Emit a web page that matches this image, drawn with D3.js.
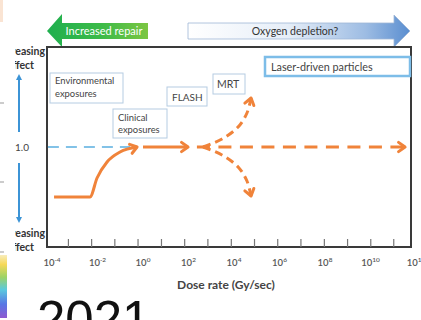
<!DOCTYPE html>
<html>
<head>
<meta charset="utf-8">
<script src="https://cdn.jsdelivr.net/npm/d3@7"></script>
<style>
  html, body { margin: 0; padding: 0; background: #fff; }
  svg { display: block; font-family: Lato, "Open Sans", sans-serif; }
</style>
</head>
<body>
<svg id="chart" width="421" height="320"></svg>
<script>
// x values are log10 of dose rate (Gy/sec); y values are relative effect (1.0 = reference)
const tickLabelExps = [-4, -2, 0, 2, 4, 6, 8, 10, 12];
const tickLabelSup  = ["-4", "-2", "0", "2", "4", "6", "8", "10", "12"];
const minorTickExps = [-3.3, -2.28, -1.26, -0.24, 0.79, 1.81, 2.83, 3.86, 4.88, 5.9, 6.92, 7.95, 8.97, 9.99, 11.0];

// low-dose-rate level rising to the 1.0 level
const riseExp    = [-3.91, -2.33, -2.02, -1.58, -1.01, -0.26];
const riseEffect = [0.5, 0.5, 0.69, 0.85, 0.95, 1.0];
// solid continuation at 1.0
const flatExp    = [0.0, 1.98];
const flatEffect = [1.0, 1.0];
// dashed continuation at 1.0
const dashExp    = [2.37, 11.52];
const dashEffect = [1.0, 1.0];
// reference level
const refExp     = [-4.18, -0.57];
const refEffect  = [1.0, 1.0];
// branches at ultra-high dose rate
const upExp      = [2.64, 3.47, 4.18, 4.57, 4.75];
const upEffect   = [1.0, 1.08, 1.2, 1.34, 1.49];
const downExp    = [2.64, 3.47, 4.18, 4.57, 4.75];
const downEffect = [1.0, 0.92, 0.8, 0.66, 0.51];

const svg = d3.select("#chart");
const frame = { left: 47, top: 47, right: 411, bottom: 247 };

const x = d3.scaleLinear().domain([-4, 12]).range([52, 416]);
const y = d3.scaleLinear().domain([0, 2]).range([247, 47]);

const ORANGE = "#F0833A";
const BLUE_DASH = "#5AAFE0";
const AXIS_BLUE = "#3C94D6";

const defs = svg.append("defs");
const gGreen = defs.append("linearGradient").attr("id", "gGreen").attr("x1", 0).attr("x2", 1).attr("y1", 0).attr("y2", 0);
gGreen.append("stop").attr("offset", "0%").attr("stop-color", "#1FAF4F");
gGreen.append("stop").attr("offset", "55%").attr("stop-color", "#3DBB48");
gGreen.append("stop").attr("offset", "100%").attr("stop-color", "#7CC642");
const gBlue = defs.append("linearGradient").attr("id", "gBlue").attr("x1", 0).attr("x2", 1).attr("y1", 0).attr("y2", 0);
gBlue.append("stop").attr("offset", "0%").attr("stop-color", "#FFFFFF");
gBlue.append("stop").attr("offset", "45%").attr("stop-color", "#E6EEF8");
gBlue.append("stop").attr("offset", "80%").attr("stop-color", "#9DBCE3");
gBlue.append("stop").attr("offset", "100%").attr("stop-color", "#5A8ED0");
const gBar = defs.append("linearGradient").attr("id", "gBar").attr("x1", 0).attr("x2", 0).attr("y1", 0).attr("y2", 1);
[["0%", "#F7E9B0"], ["15%", "#F5D23A"], ["35%", "#8CCB4A"], ["55%", "#3DBFD8"], ["78%", "#3A5FE0"], ["100%", "#7A3CC8"]]
  .forEach(([o, c]) => gBar.append("stop").attr("offset", o).attr("stop-color", c));
defs.append("clipPath").attr("id", "sideClip")
  .append("rect").attr("x", 15).attr("y", 0).attr("width", 40).attr("height", 320);

// stray slide edge details on the far left
svg.append("rect").attr("x", 0).attr("y", 255).attr("width", 7).attr("height", 63).attr("fill", "url(#gBar)").attr("opacity", 0.85);
[103, 182, 252].forEach(v => svg.append("line").attr("x1", 0).attr("x2", 4).attr("y1", v).attr("y2", v).attr("stroke", "#999").attr("stroke-width", 1));
svg.append("rect").attr("x", 0).attr("y", 0).attr("width", 3).attr("height", 22).attr("fill", "#F6C9A8").attr("opacity", 0.5);

// top arrows
svg.append("path")
  .attr("d", "M47,31 L62,14 L62,23 L148,23 L148,39 L62,39 L62,47 Z")
  .attr("fill", "url(#gGreen)");
svg.append("text").attr("x", 104).attr("y", 35).attr("text-anchor", "middle")
  .attr("font-size", 11).attr("fill", "#fff").text("Increased repair");

svg.append("path")
  .attr("d", "M188,23 L394,23 L394,15 L410,31 L394,47 L394,39 L188,39 Z")
  .attr("fill", "url(#gBlue)").attr("stroke", "#9FB6D6").attr("stroke-width", 0.8);
svg.append("text").attr("x", 295).attr("y", 35).attr("text-anchor", "middle")
  .attr("font-size", 10.5).attr("fill", "#333").text("Oxygen depletion?");

// plot frame
svg.append("rect")
  .attr("x", frame.left).attr("y", frame.top)
  .attr("width", frame.right - frame.left).attr("height", frame.bottom - frame.top)
  .attr("fill", "#fff").attr("stroke", "#3a3a3a").attr("stroke-width", 2);

// inward ticks
const xAxis = d3.axisBottom(x).tickValues(minorTickExps).tickSizeInner(-8).tickSizeOuter(0).tickFormat("");
const axG = svg.append("g").attr("transform", `translate(0,${frame.bottom})`).call(xAxis);
axG.select(".domain").remove();
axG.selectAll(".tick line").attr("stroke", "#777").attr("stroke-width", 1.2);

// tick labels 10^n
const lab = svg.append("g").attr("font-size", 9.5).attr("fill", "#555").attr("font-weight", 600);
tickLabelExps.forEach((e, i) => {
  const t = lab.append("text").attr("x", x(e)).attr("y", 266).attr("text-anchor", "middle");
  t.append("tspan").text("10");
  t.append("tspan").attr("dy", -4).attr("font-size", 6.5).text(tickLabelSup[i]);
});

svg.append("text").attr("x", 226).attr("y", 289).attr("text-anchor", "middle")
  .attr("font-size", 12).attr("font-weight", 700).attr("fill", "#444").text("Dose rate (Gy/sec)");

// y-axis side labels
const side = svg.append("g").attr("clip-path", "url(#sideClip)")
  .attr("font-size", 10.5).attr("font-weight", 700).attr("fill", "#333").attr("text-anchor", "end");
side.append("text").attr("x", 45).attr("y", 55).text("Increasing");
side.append("text").attr("x", 34).attr("y", 69).text("effect");
side.append("text").attr("x", 45).attr("y", 237).text("Decreasing");
side.append("text").attr("x", 34).attr("y", 251).text("effect");
side.append("text").attr("x", 29).attr("y", y(1) + 3.5).attr("text-anchor", "end")
  .attr("font-size", 10).attr("font-weight", 400).attr("fill", "#444").text("1.0");

function vArrow(x0, y0, y1) {
  const dir = Math.sign(y1 - y0);
  svg.append("line").attr("x1", x0).attr("x2", x0).attr("y1", y0).attr("y2", y1 - dir * 4)
    .attr("stroke", AXIS_BLUE).attr("stroke-width", 2);
  svg.append("path").attr("d", `M${x0},${y1} L${x0 - 3},${y1 - dir * 6} L${x0 + 3},${y1 - dir * 6} Z`).attr("fill", AXIS_BLUE);
}
vArrow(19, 132, 74);
vArrow(19, 163, 223);

// label boxes
function box(x0, y0, w, h, lines, opts = {}) {
  svg.append("rect").attr("x", x0).attr("y", y0).attr("width", w).attr("height", h)
    .attr("fill", "#fff").attr("stroke", opts.stroke || "#B5CCE2").attr("stroke-width", opts.sw || 1);
  lines.forEach((s, i) => {
    svg.append("text").attr("x", x0 + (opts.pad || 5)).attr("y", y0 + (opts.first || 11) + i * (opts.lh || 13))
      .attr("font-size", opts.fs || 9.5).attr("fill", "#444").text(s);
  });
}
box(50, 73, 73, 30, ["Environmental", "exposures"], { first: 11, lh: 13, fs: 9.4 });
box(113, 109, 54, 29, ["Clinical", "exposures"], { first: 11.5, lh: 12, fs: 9.4 });
box(167, 87, 40, 19, ["FLASH"], { first: 13.5, fs: 10 });
box(213, 74, 32, 20, ["MRT"], { first: 14, fs: 10.5, pad: 4 });
box(265, 57, 145, 19, ["Laser-driven particles"], { first: 13.5, fs: 10.8, stroke: "#7DBDE8", sw: 2.5, pad: 6 });

// curves
const line = d3.line().x(d => x(d[0])).y(d => y(d[1]));
const zip = (a, b) => a.map((v, i) => [v, b[i]]);

function chevron(p0, p1, opts = {}) {
  const ang = Math.atan2(p1[1] - p0[1], p1[0] - p0[0]);
  const L = opts.len || 8, spread = opts.spread || 0.62;
  const a = [p1[0] - L * Math.cos(ang - spread), p1[1] - L * Math.sin(ang - spread)];
  const b = [p1[0] - L * Math.cos(ang + spread), p1[1] - L * Math.sin(ang + spread)];
  svg.append("path").attr("d", `M${a[0]},${a[1]} L${p1[0]},${p1[1]} L${b[0]},${b[1]}`)
    .attr("fill", "none").attr("stroke", ORANGE).attr("stroke-width", 3)
    .attr("stroke-linecap", "round").attr("stroke-linejoin", "round");
}
const px = d => [x(d[0]), y(d[1])];

// reference dashed level
svg.append("path").datum(zip(refExp, refEffect)).attr("d", line)
  .attr("fill", "none").attr("stroke", BLUE_DASH).attr("stroke-width", 1.6).attr("stroke-dasharray", "11,7");

const rise = zip(riseExp, riseEffect);
svg.append("path").datum(rise).attr("d", line.curve(d3.curveMonotoneX))
  .attr("fill", "none").attr("stroke", ORANGE).attr("stroke-width", 3);
chevron(px(rise[rise.length - 2]), px(rise[rise.length - 1]));

const flat = zip(flatExp, flatEffect);
svg.append("path").datum(flat).attr("d", line.curve(d3.curveLinear))
  .attr("fill", "none").attr("stroke", ORANGE).attr("stroke-width", 3);
chevron(px(flat[0]), px(flat[1]));

const dash = zip(dashExp, dashEffect);
svg.append("path").datum(dash).attr("d", line.curve(d3.curveLinear))
  .attr("fill", "none").attr("stroke", ORANGE).attr("stroke-width", 3.2).attr("stroke-dasharray", "13,8.5");
chevron(px(dash[0]), px(dash[1]));

[zip(upExp, upEffect), zip(downExp, downEffect)].forEach(br => {
  svg.append("path").datum(br).attr("d", line.curve(d3.curveCatmullRom.alpha(0.5)))
    .attr("fill", "none").attr("stroke", ORANGE).attr("stroke-width", 3).attr("stroke-dasharray", "8,5");
  chevron(px(br[br.length - 2]), px(br[br.length - 1]));
});

// large year text, cut by the lower edge
svg.append("text").attr("x", 37).attr("y", 337).attr("font-family", "Liberation Sans, Arial, sans-serif")
  .attr("font-size", 51).attr("fill", "#111").text("2021");
</script>
</body>
</html>
